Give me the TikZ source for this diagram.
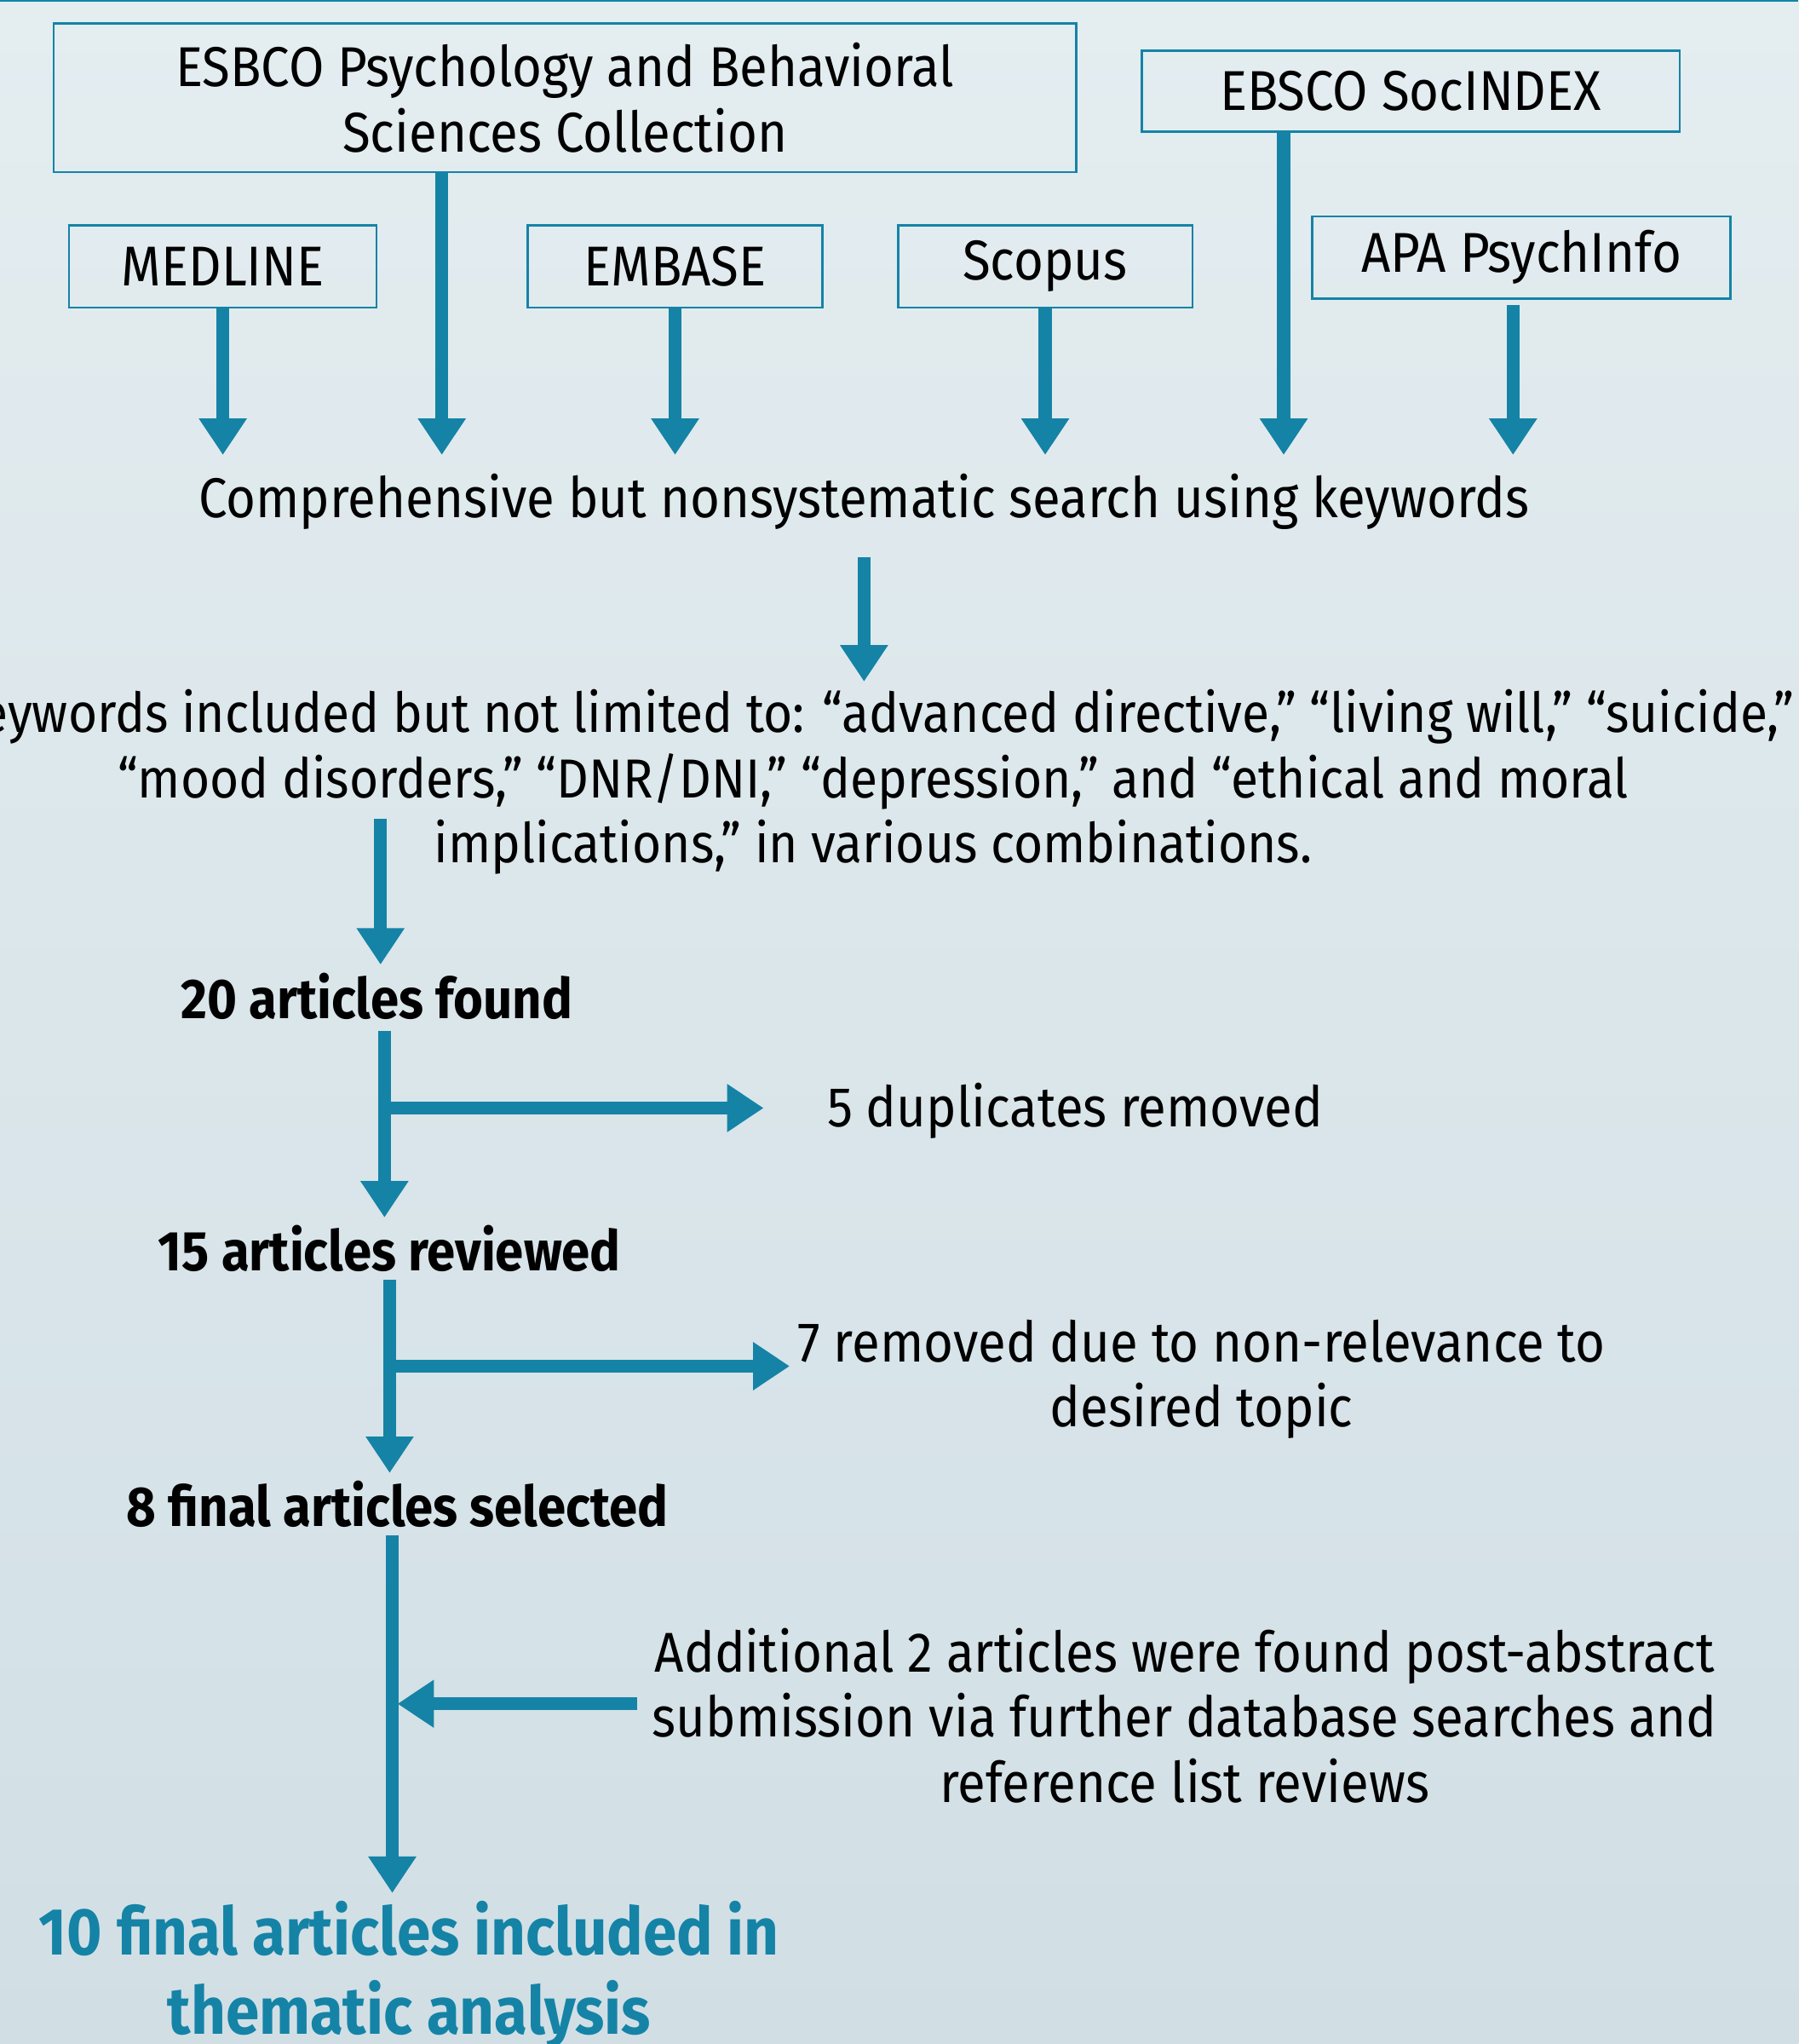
\documentclass[tikz,border=0pt]{standalone}
\usepackage{fontspec}
\setmainfont{Fira Sans}[FakeStretch=0.91]
\usetikzlibrary{arrows.meta,positioning,calc}
\definecolor{flowteal}{RGB}{21,131,166}
\definecolor{bgtop}{RGB}{228,237,240}
\definecolor{bgbottom}{RGB}{209,223,229}

\begin{document}
\begin{tikzpicture}[x=0.02cm,y=-0.02cm,font=\fontsize{24.5}{28.45}\selectfont]
  \tikzstyle{db}=[draw=flowteal,line width=1pt,align=center,inner sep=0pt]
  \tikzstyle{arr}=[draw=flowteal,line width=0.2cm,-{Triangle[width=0.7cm,length=0.56cm]}]
  \tikzstyle{txt}=[align=center]
  \tikzstyle{res}=[font=\fontsize{24.5}{28.45}\selectfont\bfseries]
  % background and top rule
  \fill[top color=bgtop,bottom color=bgbottom] (0,0) rectangle (1380,1568);
  \useasboundingbox (0,0) rectangle (1380,1568);
  \draw[flowteal,line width=1pt] (0,0.6) -- (1380,0.6);
  % databases
  \node[db,minimum width=15.7cm,minimum height=2.28cm] (esbco) at (433.5,75) {ESBCO Psychology and Behavioral\\Sciences Collection};
  \node[db,minimum width=8.26cm,minimum height=1.24cm] (socindex) at (1082.5,70) {EBSCO SocINDEX};
  \node[db,minimum width=4.72cm,minimum height=1.26cm] (medline) at (171,204.5) {MEDLINE};
  \node[db,minimum width=4.52cm,minimum height=1.26cm] (embase) at (518,204.5) {EMBASE};
  \node[db,minimum width=4.52cm,minimum height=1.26cm] (scopus) at (802,204.5) {Scopus};
  \node[db,minimum width=6.42cm,minimum height=1.26cm] (apa) at (1167.5,197.5) {APA PsychInfo};
  % steps
  \node[txt] (search) at (663,385) {Comprehensive but nonsystematic search using keywords};
  \node[txt,font=\fontsize{24}{28.45}\selectfont] (keys) at (670,600) {Keywords included but not limited to: “advanced directive,” “living will,” “suicide,”\\“mood disorders,” “DNR/DNI,” “depression,” and “ethical and moral\\implications,” in various combinations.};
  \node[res] (found) at (289,764) {20 articles found};
  \node[txt] (dup) at (825,852) {5 duplicates removed};
  \node[res] (reviewed) at (299,958) {15 articles reviewed};
  \node[txt] (irrel) at (922,1058) {7 removed due to non-relevance to\\desired topic};
  \node[res] (selected) at (305,1154) {8 final articles selected};
  \node[txt] (additional) at (909,1316) {Additional 2 articles were found post-abstract\\submission via further database searches and\\reference list reviews};
  \node[txt,text=flowteal,font=\fontsize{29}{34.5}\selectfont\bfseries] (final) at (314,1515) {10 final articles included in\\thematic analysis};
  % database arrows
  \coordinate (hit) at (664,349);
  \draw[arr] (medline.south) -- (medline.south |- hit);
  \draw[arr] ([xshift=-1.89cm]esbco.south) -- ([xshift=-1.89cm]esbco.south |- hit);
  \draw[arr] (embase.south) -- (embase.south |- hit);
  \draw[arr] (scopus.south) -- (scopus.south |- hit);
  \draw[arr] ([xshift=-1.95cm]socindex.south) -- ([xshift=-1.95cm]socindex.south |- hit);
  \draw[arr] ([xshift=-0.13cm,yshift=-0.08cm]apa.south) -- ([xshift=-0.13cm]apa.south |- hit);
  % flow
  \draw[arr] ([yshift=-0.3cm]search.south) -- (search.south |- keys.north);
  \coordinate (kdrop) at (292,628);
  \draw[arr] (kdrop) -- (kdrop |- found.north);
  \draw[arr] ([xshift=0.12cm,yshift=-0.06cm]found.south) -- ([xshift=0.12cm]found.south |- reviewed.north);
  \coordinate (b1) at (295,850);
  \draw[arr] (b1) -- ([xshift=-0.85cm]b1 -| dup.west);
  \draw[arr] (reviewed.south) -- (reviewed.south |- selected.north);
  \coordinate (b2) at (299,1048);
  \draw[arr] (b2) -- (b2 -| irrel.west);
  \draw[arr] ([xshift=-0.08cm]selected.south) -- ([xshift=-0.08cm]selected.south |- final.north);
  \coordinate (b3) at (489,1307);
  \draw[arr] (b3) -- (selected.south |- b3);
\end{tikzpicture}
\end{document}
